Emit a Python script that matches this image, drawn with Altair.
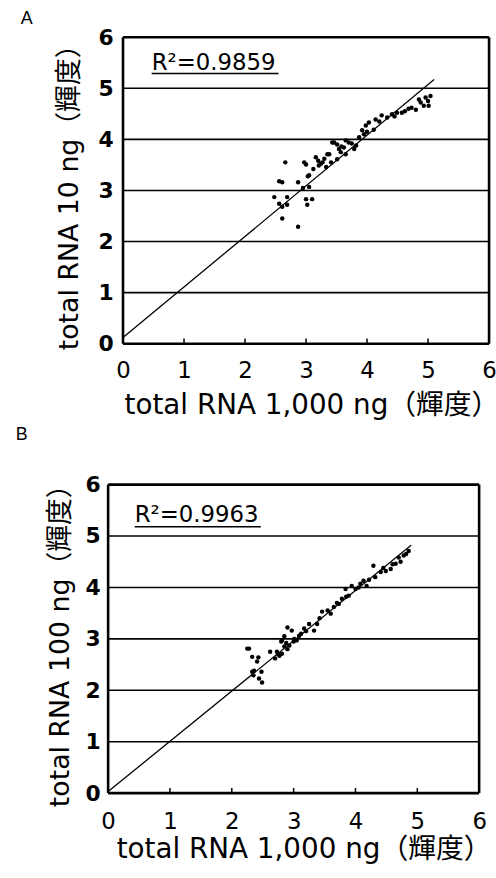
import altair as alt
import pandas as pd

# ---------------- data ----------------
axis_ticks = [0, 1, 2, 3, 4, 5, 6]
inner_ticks = [1, 2, 3, 4, 5]
grid_levels = [1, 2, 3, 4, 5]

# Panel A: total RNA 1,000 ng (x) vs total RNA 10 ng (y)
a_x = [2.66, 2.56, 2.61, 2.87, 3.03, 2.97, 3.00, 3.16, 3.21, 3.27, 3.35, 3.41, 3.51, 3.57,
       3.79, 2.48, 2.61, 2.56, 2.69, 3.00, 3.10, 3.02, 2.61, 2.87, 3.05, 3.43, 3.51, 3.54,
       3.62, 3.70, 3.82, 3.65, 3.98, 4.03, 4.11, 4.14, 4.24, 4.33, 4.41, 4.49, 4.57, 4.73,
       4.80, 4.88, 4.93, 4.96, 5.04, 5.01, 3.24, 3.33, 3.38, 3.46, 3.65, 3.87, 2.69, 3.05,
       3.95, 3.92, 4.00, 4.62, 4.68, 4.20, 4.45, 3.75, 3.58, 3.30, 3.12, 3.20, 2.95, 4.85,
       5.00]
a_y = [3.55, 3.18, 3.16, 3.16, 3.28, 3.55, 3.51, 3.65, 3.49, 3.55, 3.71, 3.55, 3.61, 3.75,
       3.81, 2.87, 2.68, 2.74, 2.87, 2.83, 2.83, 2.72, 2.45, 2.29, 3.07, 3.94, 3.90, 3.81,
       3.84, 3.94, 3.88, 3.71, 4.27, 4.33, 4.19, 4.39, 4.47, 4.43, 4.49, 4.52, 4.52, 4.62,
       4.58, 4.72, 4.66, 4.82, 4.85, 4.66, 3.52, 3.46, 3.71, 3.94, 3.98, 4.04, 2.72, 3.30,
       4.10, 4.18, 4.15, 4.55, 4.60, 4.35, 4.45, 3.92, 3.86, 3.62, 3.42, 3.58, 3.05, 4.78,
       4.75]
a_fit_x = [0.0, 5.1]
a_fit_y = [0.12, 5.17]

# Panel B: total RNA 1,000 ng (x) vs total RNA 100 ng (y)
b_x = [2.28, 2.33, 2.43, 2.41, 2.62, 2.35, 2.33, 2.48, 2.49, 2.44, 2.77, 2.81, 2.73, 2.80,
       2.85, 2.93, 2.97, 3.01, 3.05, 3.09, 3.17, 3.25, 3.33, 3.38, 3.46, 3.60, 3.65, 3.73,
       3.78, 3.84, 3.89, 3.94, 4.00, 4.08, 4.13, 4.18, 4.29, 4.32, 4.41, 4.49, 4.57, 4.65,
       4.73, 4.82, 4.86, 2.70, 2.75, 2.88, 2.90, 3.00, 3.12, 3.20, 3.42, 3.55, 3.70, 3.85,
       4.05, 4.22, 4.45, 4.60, 4.70, 4.78, 2.85, 2.90, 2.81, 2.25, 2.36]
b_y = [2.81, 2.65, 2.64, 2.56, 2.75, 2.29, 2.36, 2.36, 2.15, 2.23, 2.67, 2.71, 2.75, 2.95,
       2.85, 2.87, 3.16, 3.00, 2.97, 3.06, 3.20, 3.29, 3.16, 3.29, 3.53, 3.49, 3.62, 3.68,
       3.78, 3.97, 3.84, 4.03, 3.97, 4.07, 4.13, 4.03, 4.42, 4.20, 4.30, 4.32, 4.36, 4.46,
       4.50, 4.65, 4.71, 2.62, 2.70, 2.92, 2.80, 2.95, 3.10, 3.15, 3.40, 3.55, 3.70, 3.82,
       4.00, 4.15, 4.38, 4.45, 4.58, 4.62, 3.05, 3.22, 2.97, 2.81, 2.38]
b_fit_x = [0.0, 4.9]
b_fit_y = [0.03, 4.82]

x_title = "total RNA 1,000 ng（輝度）"
a_y_title = "total RNA 10 ng（輝度）"
b_y_title = "total RNA 100 ng（輝度）"
r2_labels = ["R²=0.9859", "R²=0.9963"]

FONT = "DejaVu Sans, Noto Sans CJK JP"


def panel(letter, xs, ys, fx, fy, ytitle, r2text, w, h, xmin, title_dx, title_offset,
          lab_pad, ttl_pad, x_lab_pad, xtitle_x, xtitle_y, r2_xy, ul):
    xscale = alt.Scale(domain=[xmin, 6], nice=False, zero=False)
    yscale = alt.Scale(domain=[0, 6], nice=False, zero=False)
    xaxis = alt.Axis(values=axis_ticks, format="d", title=x_title, grid=False,
                     ticks=False, domain=False, labelFontSize=23,
                     labelPadding=x_lab_pad, labelFont=FONT, titleFont=FONT,
                     titleFontSize=28, titleFontWeight="normal",
                     titleBaseline="alphabetic",
                     labelColor="black", titleColor="black", labelFlush=False,
                     labelOverlap=False, titleX=xtitle_x, titleY=xtitle_y)
    yaxis = alt.Axis(values=axis_ticks, format="d", title=ytitle, grid=False,
                     ticks=False, domain=False, labelFontSize=22,
                     labelFontWeight="bold", labelFont=FONT, labelPadding=lab_pad,
                     titleFont=FONT, titleFontSize=27, titleFontWeight="normal",
                     titlePadding=ttl_pad, labelColor="black", titleColor="black",
                     labelFlush=False, labelOverlap=False)
    X = alt.X("x:Q", scale=xscale, axis=xaxis)
    Y = alt.Y("y:Q", scale=yscale, axis=yaxis)

    grid = alt.Chart(pd.DataFrame({"y": grid_levels})).mark_rule(
        color="black", strokeWidth=1.6).encode(y=Y, x=alt.datum(0), x2=alt.datum(6))
    frame_h = alt.Chart(pd.DataFrame({"y": [0, 6]})).mark_rule(
        color="black", strokeWidth=2.6).encode(y=Y, x=alt.datum(0), x2=alt.datum(6))
    frame_v = alt.Chart(pd.DataFrame({"x": [0, 6]})).mark_rule(
        color="black", strokeWidth=2.6).encode(x=X, y=alt.datum(0), y2=alt.datum(6))
    tk = alt.Chart(pd.DataFrame({"x": inner_ticks})).mark_rule(
        color="black", strokeWidth=1.5).encode(x=X, y=alt.datum(0), y2=alt.datum(0.1))
    pts = alt.Chart(pd.DataFrame({"x": xs, "y": ys})).mark_circle(
        size=20, color="black", opacity=1).encode(x=X, y=Y)
    fit = alt.Chart(pd.DataFrame({"x": fx, "y": fy})).mark_line(
        color="black", strokeWidth=1.3).encode(x=X, y=Y)
    txt = alt.Chart(pd.DataFrame({"t": [r2text]})).mark_text(
        align="left", baseline="alphabetic", fontSize=23, font=FONT, color="black"
    ).encode(x=alt.datum(r2_xy[0]), y=alt.datum(r2_xy[1]), text="t:N")
    under = alt.Chart(pd.DataFrame({"t": [r2text]})).mark_rule(
        color="black", strokeWidth=1.6
    ).encode(x=alt.datum(ul[0]), x2=alt.datum(ul[1]), y=alt.datum(ul[2]))

    return alt.layer(pts, grid, frame_h, frame_v, tk, fit, txt, under).properties(
        width=w, height=h,
        title=alt.TitleParams(text=letter, anchor="start", frame="group",
                              dx=title_dx, offset=title_offset, fontSize=18,
                              fontWeight="normal", font="Liberation Sans",
                              color="black"),
    )


# Both panels share the same left origin (x=108); panel A's x scale starts a
# little below 0 so that its frame sits further right, as in the reference.
chart_a = panel("A", a_x, a_y, a_fit_x, a_fit_y, a_y_title, r2_labels[0],
                384, 309, -0.2439, -88, -1.5, -5, 15, 16, 205, 70,
                (0.47, 5.36), (0.47, 2.55, 5.29))
chart_b = panel("B", b_x, b_y, b_fit_x, b_fit_y, b_y_title, r2_labels[1],
                374, 311, 0, -93, 27, 8, 11, 18, 197, 65,
                (0.43, 5.27), (0.43, 2.47, 5.18))

chart = alt.concat(chart_a, chart_b, columns=1, spacing=5).properties(
    padding={"left": 15, "top": 6, "right": -4, "bottom": 0}
).configure_view(stroke="transparent")

chart.save("out.html", embed_options={"renderer": "svg", "actions": False})
